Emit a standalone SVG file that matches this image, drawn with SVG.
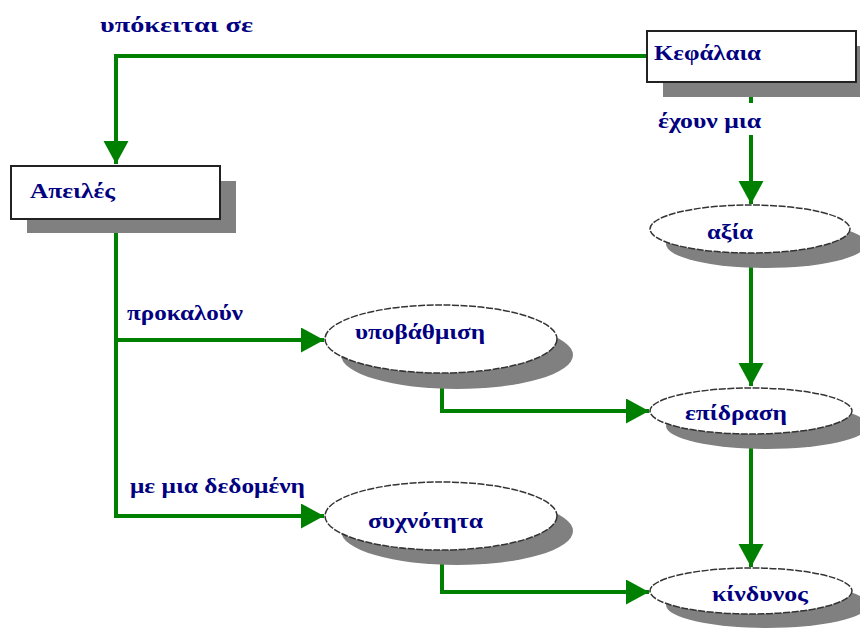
<svg xmlns="http://www.w3.org/2000/svg" width="860" height="628" viewBox="0 0 860 628">
<style>
.lbl{font-family:"Liberation Serif","DejaVu Serif",serif;font-weight:bold;font-size:21px;fill:#000080}
.box{fill:#fff;stroke:#222;stroke-width:2}
.ell{fill:#fff;stroke:#333;stroke-width:1.5;stroke-dasharray:7 1.5}
.sh{fill:#808080}
.con{fill:none;stroke:#008000;stroke-width:4}
</style>
<defs>
<marker id="ah" markerUnits="userSpaceOnUse" markerWidth="24" markerHeight="26" refX="23" refY="12.5" orient="auto">
<path d="M0,0 L23,12.5 L0,25 z" fill="#008000"/>
</marker>
</defs>
<rect width="860" height="628" fill="#fff"/>
<g id="connectors">
<path class="con" d="M647,56 H116 V164" marker-end="url(#ah)"/>
<path class="con" d="M751,82 V103"/>
<path class="con" d="M751,135 V204" marker-end="url(#ah)"/>
<path class="con" d="M751,253 V386" marker-end="url(#ah)"/>
<path class="con" d="M751,434 V567" marker-end="url(#ah)"/>
<path class="con" d="M116,219 V516 H324" marker-end="url(#ah)"/>
<path class="con" d="M116,340 H324" marker-end="url(#ah)"/>
<path class="con" d="M442,373 V411 H649" marker-end="url(#ah)"/>
<path class="con" d="M442,550 V592 H649" marker-end="url(#ah)"/>
<text class="lbl" x="100" y="32" textLength="153" lengthAdjust="spacingAndGlyphs">υπόκειται σε</text>
<text class="lbl" x="658" y="128" textLength="103" lengthAdjust="spacingAndGlyphs">έχουν μια</text>
<text class="lbl" x="127" y="320" textLength="116" lengthAdjust="spacingAndGlyphs">προκαλούν</text>
<text class="lbl" x="130" y="493" textLength="175" lengthAdjust="spacingAndGlyphs">με μια δεδομένη</text>
</g>
<g id="kefalaia">
<rect class="sh" x="663" y="46" width="209" height="51"/>
<rect class="box" x="647" y="31" width="209" height="51"/>
<text class="lbl" x="654" y="60" textLength="107" lengthAdjust="spacingAndGlyphs">Κεφάλαια</text>
</g>
<g id="apeiles">
<rect class="sh" x="27" y="181" width="209" height="52"/>
<rect class="box" x="11" y="166" width="209" height="53"/>
<text class="lbl" x="30" y="198" textLength="85" lengthAdjust="spacingAndGlyphs">Απειλές</text>
</g>
<g id="axia">
<ellipse class="sh" cx="766" cy="244" rx="100" ry="24"/>
<ellipse class="ell" cx="750" cy="229" rx="100" ry="24"/>
<text class="lbl" x="707" y="239" textLength="46" lengthAdjust="spacingAndGlyphs">αξία</text>
</g>
<g id="ypovathmisi">
<ellipse class="sh" cx="457" cy="355" rx="116" ry="34"/>
<ellipse class="ell" cx="441" cy="339" rx="116" ry="34"/>
<text class="lbl" x="355" y="339" textLength="130" lengthAdjust="spacingAndGlyphs">υποβάθμιση</text>
</g>
<g id="epidrasi">
<ellipse class="sh" cx="767" cy="426" rx="101" ry="23"/>
<ellipse class="ell" cx="751" cy="411" rx="101" ry="23"/>
<text class="lbl" x="685" y="420" textLength="102" lengthAdjust="spacingAndGlyphs">επίδραση</text>
</g>
<g id="syxnotita">
<ellipse class="sh" cx="457" cy="531" rx="116" ry="34"/>
<ellipse class="ell" cx="441" cy="516" rx="116" ry="34"/>
<text class="lbl" x="368" y="528" textLength="115" lengthAdjust="spacingAndGlyphs">συχνότητα</text>
</g>
<g id="kindynos">
<ellipse class="sh" cx="767" cy="605" rx="101" ry="23"/>
<ellipse class="ell" cx="751" cy="591" rx="101" ry="23"/>
<text class="lbl" x="712" y="601" textLength="96" lengthAdjust="spacingAndGlyphs">κίνδυνος</text>
</g>
</svg>
